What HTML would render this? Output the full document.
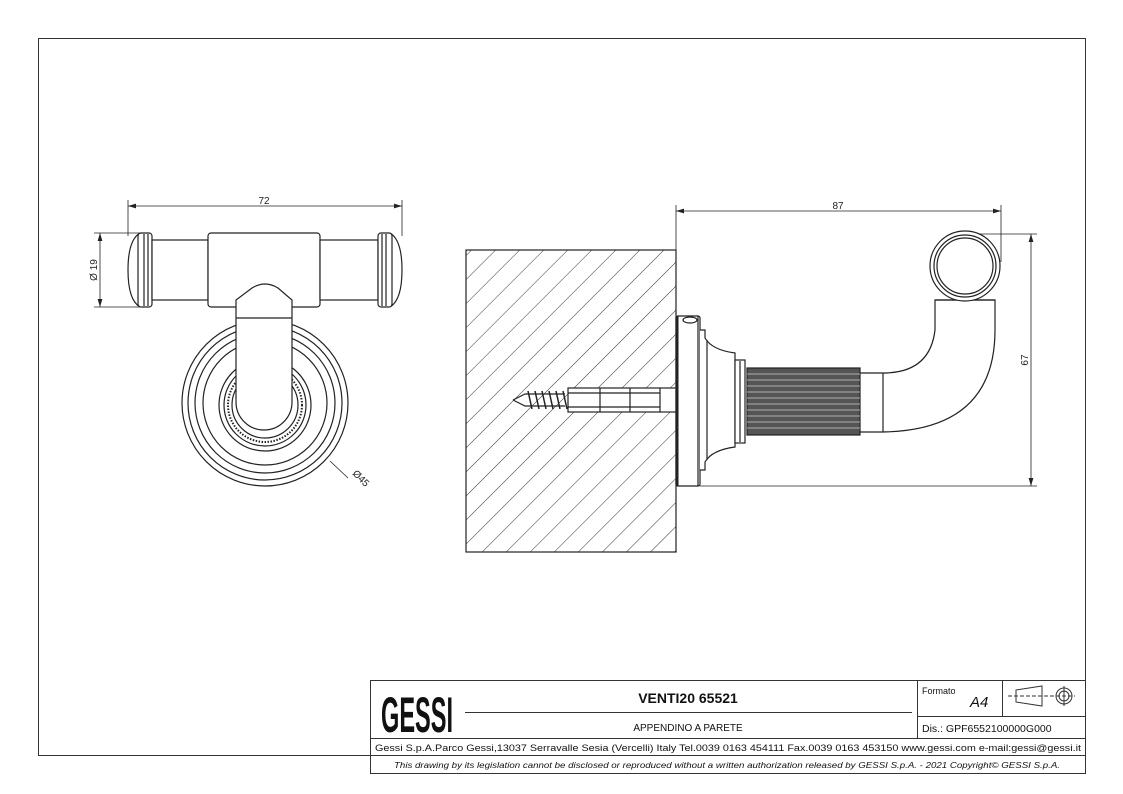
<!DOCTYPE html>
<html><head><meta charset="utf-8"><style>
html,body{margin:0;padding:0;background:#fff;}
svg{display:block;font-family:"Liberation Sans",sans-serif;}
</style></head><body>
<svg width="1123" height="794" viewBox="0 0 1123 794" xmlns="http://www.w3.org/2000/svg">
<defs>
<pattern id="h" patternUnits="userSpaceOnUse" width="17" height="17" patternTransform="rotate(45)">
<line x1="0" y1="0" x2="0" y2="17" stroke="#333" stroke-width="1"/>
</pattern>
<marker id="a" viewBox="0 0 10 6" refX="10" refY="3" markerWidth="10" markerHeight="6" orient="auto-start-reverse"><path d="M0,0L10,3L0,6z" fill="#222"/></marker>
</defs>
<rect x="38.5" y="38.5" width="1047" height="717" fill="none" stroke="#333" stroke-width="1"/>

<!-- LEFT VIEW -->
<g stroke="#222" fill="none" stroke-width="1.2">
<line x1="128" y1="200" x2="128" y2="236" stroke-width="0.8"/>
<line x1="402" y1="200" x2="402" y2="236" stroke-width="0.8"/>
<line x1="128" y1="206" x2="402" y2="206" stroke-width="0.8" marker-start="url(#a)" marker-end="url(#a)"/>
<line x1="94" y1="233" x2="140" y2="233" stroke-width="0.8"/>
<line x1="94" y1="307" x2="140" y2="307" stroke-width="0.8"/>
<line x1="100" y1="233" x2="100" y2="307" stroke-width="0.8" marker-start="url(#a)" marker-end="url(#a)"/>
<!-- rosette -->
<circle cx="265" cy="403" r="83"/><circle cx="265" cy="403" r="77"/><circle cx="265" cy="403" r="70"/><circle cx="265" cy="403" r="62"/>
<circle cx="265" cy="405" r="46"/><circle cx="265" cy="405" r="41"/><circle cx="265" cy="405" r="37" stroke-dasharray="1.5 1.5" stroke-width="2"/><circle cx="265" cy="405" r="33"/>
<line x1="330" y1="461" x2="348" y2="478" stroke-width="0.8"/>
<!-- bar -->
<path d="M140,233 Q128,240 128,270 Q128,300 140,307" fill="#fff"/>
<rect x="138" y="233" width="14" height="74" rx="3" fill="#fff"/>
<line x1="144" y1="234" x2="144" y2="306"/><line x1="148" y1="234" x2="148" y2="306"/>
<rect x="152" y="240" width="56" height="60" fill="#fff"/>
<rect x="208" y="233" width="112" height="74" rx="3" fill="#fff"/>
<rect x="320" y="240" width="58" height="60" fill="#fff"/>
<path d="M390,233 Q402,240 402,270 Q402,300 390,307" fill="#fff"/>
<rect x="378" y="233" width="14" height="74" rx="3" fill="#fff"/>
<line x1="382" y1="234" x2="382" y2="306"/><line x1="386" y1="234" x2="386" y2="306"/>
<!-- stem over bar -->
<path d="M236,402 V300 L252,288 Q265,280 278,288 L292,300 V402 A28,28 0 0 1 236,402 Z" fill="#fff"/>
<line x1="236" y1="318" x2="292" y2="318"/>
</g>
<text x="264" y="204" font-size="10" text-anchor="middle" fill="#222">72</text>
<text x="97" y="270" font-size="10" text-anchor="middle" fill="#222" transform="rotate(-90 97 270)">Ø 19</text>
<text x="352" y="474" font-size="10" fill="#222" transform="rotate(45 352 474)">Ø45</text>

<!-- RIGHT VIEW -->
<rect x="466" y="250" width="210" height="302" fill="url(#h)" stroke="#222" stroke-width="1.2"/>
<g stroke="#222" fill="none" stroke-width="1.2">
<line x1="676" y1="205" x2="676" y2="250" stroke-width="0.8"/>
<line x1="1001" y1="205" x2="1001" y2="262" stroke-width="0.8"/>
<line x1="676" y1="211" x2="1001" y2="211" stroke-width="0.8" marker-start="url(#a)" marker-end="url(#a)"/>
<line x1="965" y1="234" x2="1037" y2="234" stroke-width="0.8"/>
<line x1="700" y1="486" x2="1037" y2="486" stroke-width="0.8"/>
<line x1="1031" y1="234" x2="1031" y2="486" stroke-width="0.8" marker-start="url(#a)" marker-end="url(#a)"/>
<!-- screw & anchor -->
<rect x="568" y="388" width="108" height="24" fill="#fff"/>
<path d="M568,393 H660 M568,407 H660 M600,388 V412 M630,388 V412 M660,388 V412"/>
<path d="M513,400 L525,394 L565,394 M513,400 L525,406 L565,406"/>
<path d="M528,391 l4,18 M535,391 l4,18 M542,391 l4,18 M549,391 l4,18 M556,391 l4,18 M563,391 l4,18" stroke-width="1.5"/>
<!-- plate -->
<rect x="676" y="316" width="24" height="170" rx="2" fill="#fff"/>
<line x1="677" y1="316" x2="677" y2="486" stroke-width="3"/>
<ellipse cx="690" cy="320" rx="7" ry="3"/>
<line x1="698" y1="316" x2="698" y2="486"/>
<path d="M700,330 H705 V338 Q712,350 735,353 V447 Q712,450 705,462 V470 H700" fill="#fff"/>
<line x1="707" y1="340" x2="707" y2="460"/>
<rect x="735" y="360" width="10" height="83" fill="#fff"/>
<line x1="740" y1="361" x2="740" y2="442"/>
<!-- bend -->
<path d="M860,373 H883 Q930,373 935,330 V300 H995 V330 Q995,430 883,432 H860" fill="#fff"/>
<line x1="883" y1="373" x2="883" y2="432"/>
<line x1="935" y1="300" x2="995" y2="300"/>
<circle cx="965" cy="266" r="35" fill="#fff"/><circle cx="965" cy="266" r="31"/><circle cx="965" cy="266" r="28"/>
<!-- knurl -->
<rect x="747" y="368" width="113" height="67" fill="#555"/>
</g>
<g stroke="#ccc" stroke-width="0.8">
<line x1="747" y1="374" x2="860" y2="374"/><line x1="747" y1="380" x2="860" y2="380"/><line x1="747" y1="386" x2="860" y2="386"/><line x1="747" y1="392" x2="860" y2="392"/><line x1="747" y1="398" x2="860" y2="398"/><line x1="747" y1="404" x2="860" y2="404"/><line x1="747" y1="410" x2="860" y2="410"/><line x1="747" y1="416" x2="860" y2="416"/><line x1="747" y1="422" x2="860" y2="422"/><line x1="747" y1="428" x2="860" y2="428"/>
</g>
<text x="838" y="209" font-size="10" text-anchor="middle" fill="#222">87</text>
<text x="1028" y="360" font-size="10" text-anchor="middle" fill="#222" transform="rotate(-90 1028 360)">67</text>

<!-- TITLE BLOCK -->
<g stroke="#333" fill="none" stroke-width="1">
<rect x="370.5" y="680.5" width="715" height="93"/>
<line x1="370" y1="738.5" x2="1085" y2="738.5"/>
<line x1="370" y1="755.5" x2="1085" y2="755.5"/>
<line x1="917.5" y1="680" x2="917.5" y2="738"/>
<line x1="1002.5" y1="680" x2="1002.5" y2="716"/>
<line x1="917" y1="716.5" x2="1085" y2="716.5"/>
<line x1="465" y1="712.5" x2="912" y2="712.5"/>
<path d="M1016,690 L1042,686 V706 L1016,702 Z"/>
<line x1="1008" y1="696" x2="1075" y2="696" stroke-dasharray="4 2"/>
<circle cx="1064" cy="696" r="8"/><circle cx="1064" cy="696" r="5"/>
<line x1="1064" y1="686" x2="1064" y2="706"/>
</g>
<text x="381" y="732" font-size="50" font-weight="bold" fill="#111" textLength="72" lengthAdjust="spacingAndGlyphs">GESSI</text>
<text x="688" y="703" font-size="14" font-weight="bold" text-anchor="middle" fill="#111">VENTI20 65521</text>
<text x="688" y="731" font-size="10" text-anchor="middle" fill="#111">APPENDINO A PARETE</text>
<text x="922" y="694" font-size="9" fill="#111">Formato</text>
<text x="970" y="707" font-size="15" font-style="italic" fill="#111">A4</text>
<text x="922" y="732" font-size="10.5" fill="#111">Dis.: GPF6552100000G000</text>
<text x="375" y="751" font-size="9.6" fill="#111" textLength="706" lengthAdjust="spacingAndGlyphs">Gessi S.p.A.Parco Gessi,13037 Serravalle Sesia (Vercelli) Italy Tel.0039 0163 454111 Fax.0039 0163 453150 www.gessi.com e-mail:gessi@gessi.it</text>
<text x="727" y="768" font-size="8" font-style="italic" text-anchor="middle" fill="#111" textLength="666" lengthAdjust="spacingAndGlyphs">This drawing by its legislation cannot be disclosed or reproduced without a written authorization released by GESSI S.p.A. - 2021 Copyright© GESSI S.p.A.</text>
</svg>
</body></html>
